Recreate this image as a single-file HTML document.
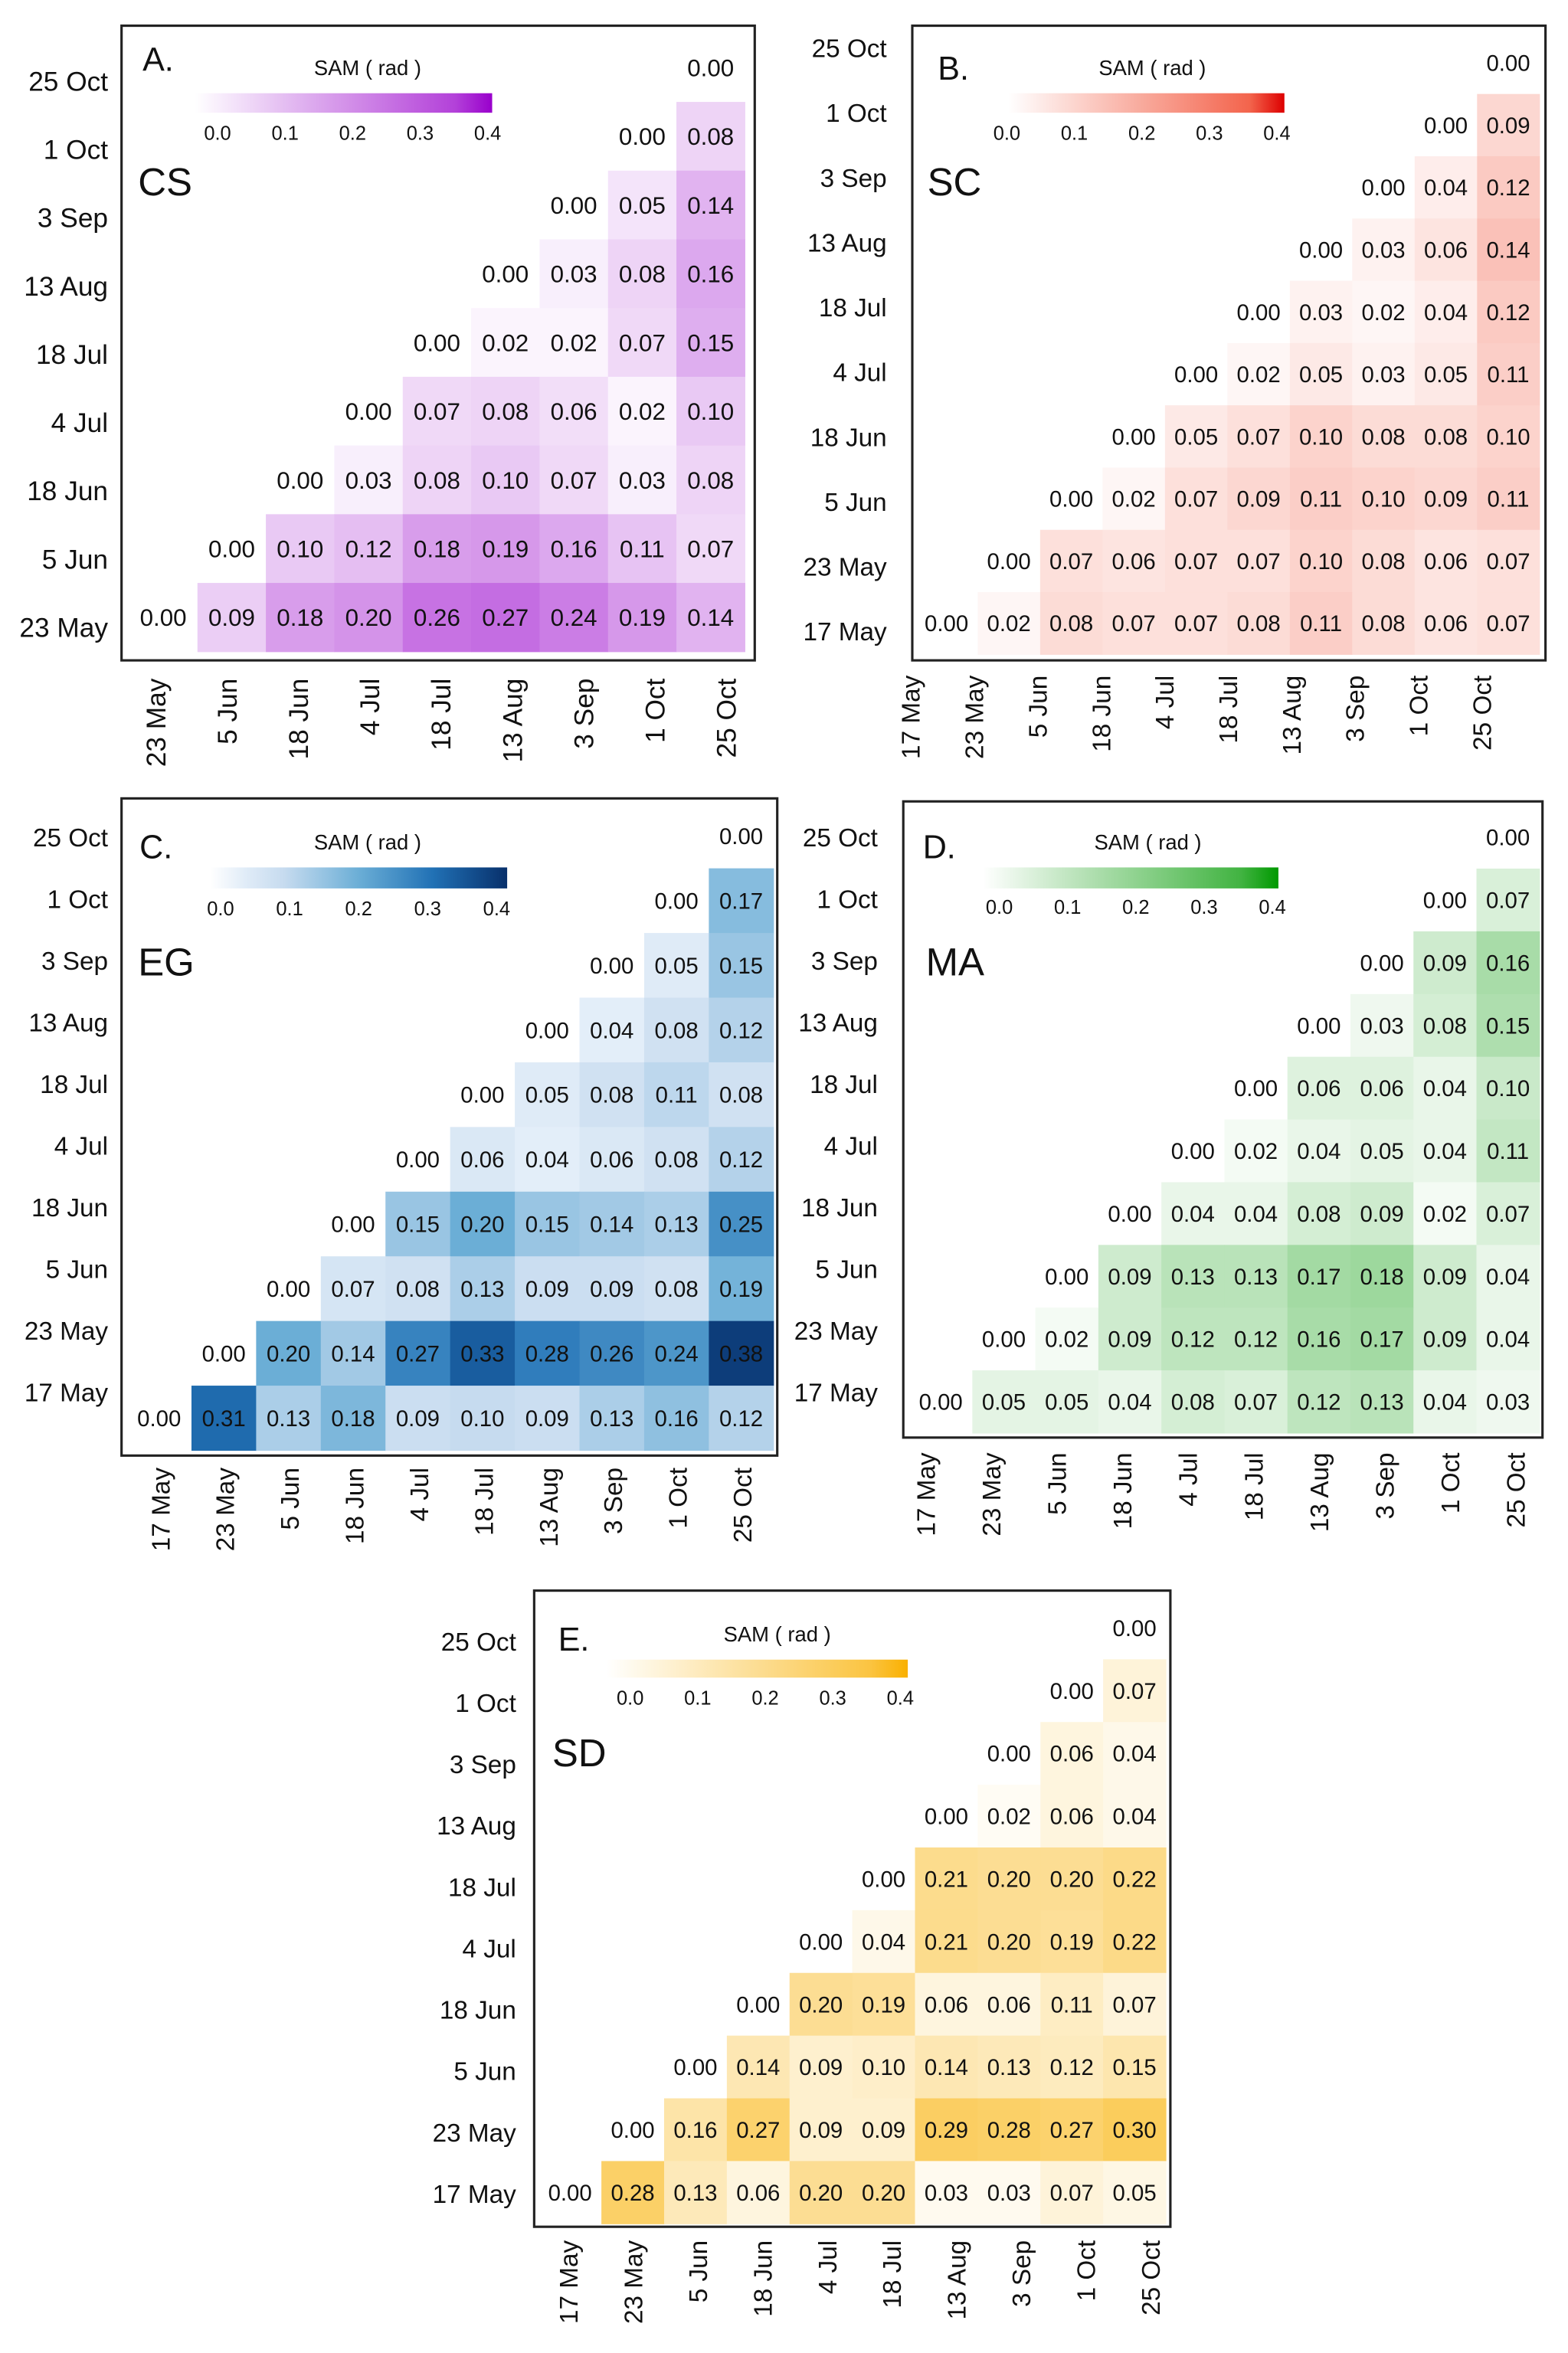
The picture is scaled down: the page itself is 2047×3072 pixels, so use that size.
<!DOCTYPE html>
<html><head><meta charset="utf-8"><style>
html,body{margin:0;padding:0;background:#fff}
svg{display:block}
text{font-family:"Liberation Sans",Arial,sans-serif;fill:#111}
</style></head><body>
<svg id="s" xmlns="http://www.w3.org/2000/svg" width="2047" height="3072" viewBox="0 0 1045 1568">
<rect width="1045" height="1568" fill="#fff"/>
</svg>
<script>
var S=document.getElementById('s'),NS='http://www.w3.org/2000/svg';
function el(t,a,txt){var e=document.createElementNS(NS,t);for(var k in a)e.setAttribute(k,a[k]);if(txt!=null)e.textContent=txt;S.appendChild(e);return e;}
function hex(h){return [parseInt(h.substr(1,2),16),parseInt(h.substr(3,2),16),parseInt(h.substr(5,2),16)];}
function lin(max,fac){var m=hex(max);return function(v){var f=Math.min(1,v/0.4)*fac;return 'rgb('+m.map(function(c){return Math.round(255+(c-255)*f)}).join(',')+')';};}
function stops(st){return function(v){for(var i=0;i<st.length-1;i++){if(v<=st[i+1][0]){var f=(v-st[i][0])/(st[i+1][0]-st[i][0]);var a=hex(st[i][1]),b=hex(st[i+1][1]);return 'rgb('+a.map(function(c,j){return Math.round(c+(b[j]-c)*f)}).join(',')+')';}}return st[st.length-1][1];};}
var D9=['23 May','5 Jun','18 Jun','4 Jul','18 Jul','13 Aug','3 Sep','1 Oct','25 Oct'];
var D10=['17 May','23 May','5 Jun','18 Jun','4 Jul','18 Jul','13 Aug','3 Sep','1 Oct','25 Oct'];
var P=[
{d:D9,box:[81,17,422,423],cx:86,cy:22,cw:45.6,ch:45.8,fs:16,yl:[72,54,45.5,18],xl:[104,47.5,452,18],col:lin('#9900cc',0.85),max:'#9900cc',L:['A.',95,47],N:['CS',92,130],T:[245,50],bar:[130,62,198,13],tk:[145,45,93],
data:[[0],[0,.08],[0,.05,.14],[0,.03,.08,.16],[0,.02,.02,.07,.15],[0,.07,.08,.06,.02,.10],[0,.03,.08,.10,.07,.03,.08],[0,.10,.12,.18,.19,.16,.11,.07],[0,.09,.18,.20,.26,.27,.24,.19,.14]]},
{d:D10,box:[608,17,422,423],cx:610,cy:21,cw:41.6,ch:41.5,fs:15,yl:[591,32,43.2,17],xl:[607,42.3,450,17],col:lin('#ee2200',0.8),max:'#dd0000',L:['B.',625,53],N:['SC',618,130],T:[768,50],bar:[672,62,184,13],tk:[671,45,93],
data:[[0],[0,.09],[0,.04,.12],[0,.03,.06,.14],[0,.03,.02,.04,.12],[0,.02,.05,.03,.05,.11],[0,.05,.07,.10,.08,.08,.10],[0,.02,.07,.09,.11,.10,.09,.11],[0,.07,.06,.07,.07,.10,.08,.06,.07],[0,.02,.08,.07,.07,.08,.11,.08,.06,.07]]},
{d:D10,box:[81,532,437,438],cx:84.5,cy:535.5,cw:43.1,ch:43.1,fs:15,yl:[72,558,41.1,17],xl:[107,43.1,978,17],col:stops([[0,'#f7fbff'],[0.1,'#c6dbef'],[0.2,'#6baed6'],[0.3,'#2171b5'],[0.4,'#08306b']]),max:null,L:['C.',93,572],N:['EG',92,650],T:[245,566],bar:[140,578,198,14],tk:[147,46,610],
data:[[0],[0,.17],[0,.05,.15],[0,.04,.08,.12],[0,.05,.08,.11,.08],[0,.06,.04,.06,.08,.12],[0,.15,.20,.15,.14,.13,.25],[0,.07,.08,.13,.09,.09,.08,.19],[0,.20,.14,.27,.33,.28,.26,.24,.38],[0,.31,.13,.18,.09,.10,.09,.13,.16,.12]]},
{d:D10,box:[602,534,426,424],cx:606,cy:537,cw:42,ch:41.8,fs:15,yl:[585,558,41.1,17],xl:[617,43.7,968,17],col:lin('#009900',0.85),max:'#009900',L:['D.',615,572],N:['MA',617,650],T:[765,566],bar:[655,578,197,14],tk:[666,45.5,609],
data:[[0],[0,.07],[0,.09,.16],[0,.03,.08,.15],[0,.06,.06,.04,.10],[0,.02,.04,.05,.04,.11],[0,.04,.04,.08,.09,.02,.07],[0,.09,.13,.13,.17,.18,.09,.04],[0,.02,.09,.12,.12,.16,.17,.09,.04],[0,.05,.05,.04,.08,.07,.12,.13,.04,.03]]},
{d:D10,box:[356,1060,424,424],cx:359,cy:1064,cw:41.8,ch:41.8,fs:15,yl:[344,1094,40.9,17],xl:[379,43.1,1493,17],col:lin('#f9b000',0.85),max:'#f9b000',L:['E.',372,1100],N:['SD',368,1177],T:[518,1094],bar:[404,1106,201,12],tk:[420,45,1136],
data:[[0],[0,.07],[0,.06,.04],[0,.02,.06,.04],[0,.21,.20,.20,.22],[0,.04,.21,.20,.19,.22],[0,.20,.19,.06,.06,.11,.07],[0,.14,.09,.10,.14,.13,.12,.15],[0,.16,.27,.09,.09,.29,.28,.27,.30],[0,.28,.13,.06,.20,.20,.03,.03,.07,.05]]}
];
P.forEach(function(p,pi){
 var n=p.d.length;
 p.data.forEach(function(row,r){
  var c0=n-1-r;
  row.forEach(function(v,k){
   var c=c0+k,x=p.cx+c*p.cw,y=p.cy+r*p.ch;
   el('rect',{x:x,y:y,width:p.cw+0.3,height:p.ch+0.3,fill:v===0?'#ffffff':p.col(v)});
  });
 });
 p.data.forEach(function(row,r){
  var c0=n-1-r;
  row.forEach(function(v,k){
   var c=c0+k,x=p.cx+(c+0.5)*p.cw,y=p.cy+(r+0.5)*p.ch;
   el('text',{x:x,y:y+p.fs*0.36,'font-size':p.fs,'text-anchor':'middle'},v.toFixed(2));
  });
 });
 el('rect',{x:p.box[0],y:p.box[1],width:p.box[2],height:p.box[3],fill:'none',stroke:'#222','stroke-width':1.6});
 for(var i=0;i<n;i++){
  el('text',{x:p.yl[0],y:p.yl[1]+i*p.yl[2]+p.yl[3]*0.35,'font-size':p.yl[3],'text-anchor':'end'},p.d[n-1-i]);
 }
 for(var i=0;i<n;i++){
  var x=p.xl[0]+i*p.xl[1];
  el('text',{transform:'translate('+x+','+p.xl[2]+') rotate(-90)','font-size':p.xl[3],'text-anchor':'end',dy:'0.35em'},p.d[i]);
 }
 el('text',{x:p.L[1],y:p.L[2],'font-size':22},p.L[0]);
 el('text',{x:p.N[1],y:p.N[2],'font-size':26},p.N[0]);
 el('text',{x:p.T[0],y:p.T[1],'font-size':14,'text-anchor':'middle'},'SAM  ( rad )');
 var gid='g'+pi,g=document.createElementNS(NS,'linearGradient');g.setAttribute('id',gid);
 for(var s=0;s<=8;s++){var st=document.createElementNS(NS,'stop');st.setAttribute('offset',(s/8));st.setAttribute('stop-color',s===0?'#ffffff':p.col(0.05*s));g.appendChild(st);}
 var defs=document.createElementNS(NS,'defs');defs.appendChild(g);S.appendChild(defs);
 if(p.max){g.lastChild.setAttribute('stop-color',p.max);}
 el('rect',{x:p.bar[0],y:p.bar[1],width:p.bar[2],height:p.bar[3],fill:'url(#'+gid+')'});
 ['0.0','0.1','0.2','0.3','0.4'].forEach(function(t,j){
  el('text',{x:p.tk[0]+j*p.tk[1],y:p.tk[2],'font-size':13,'text-anchor':'middle'},t);
 });
});
</script>
</body></html>
